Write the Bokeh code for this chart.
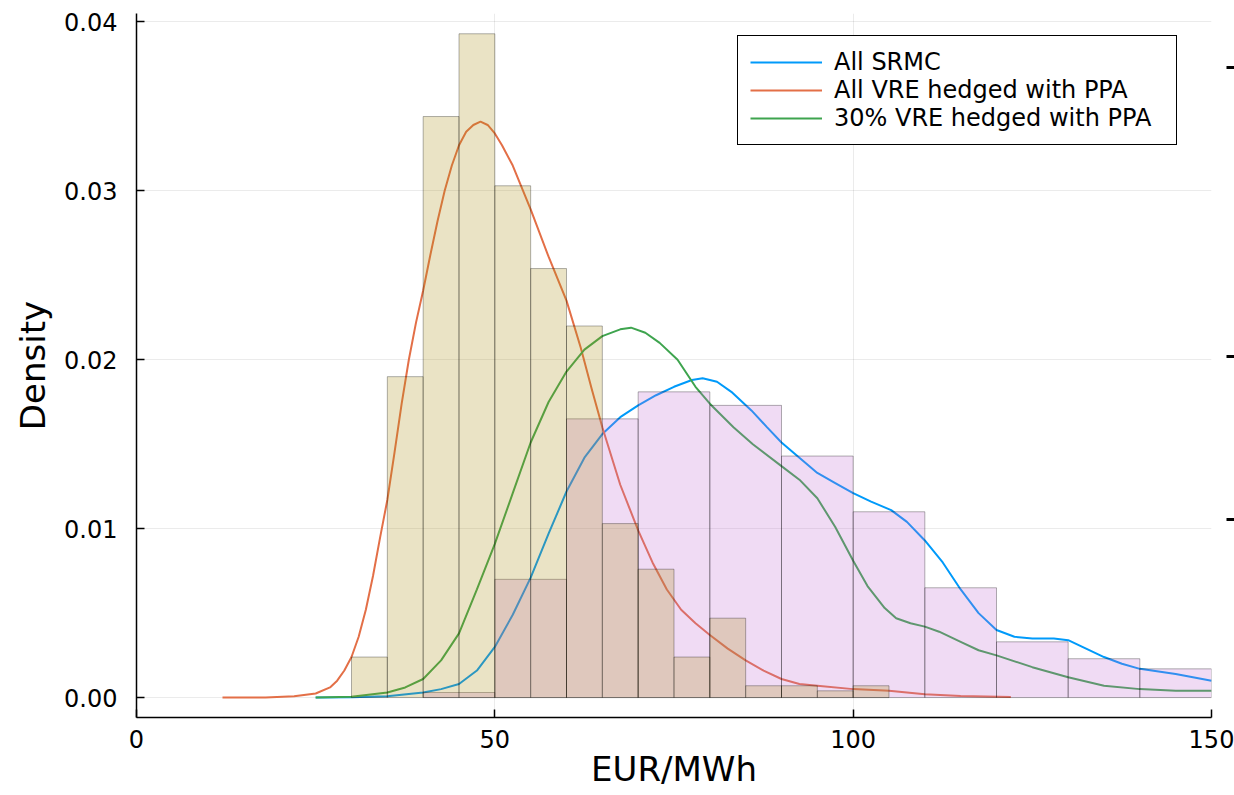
from bokeh.plotting import figure
from bokeh.models import (Range1d, FixedTicker, PrintfTickFormatter, LinearAxis,
                          CustomJSTickFormatter, Legend, LegendItem)
from bokeh.embed import file_html
from bokeh.resources import INLINE

# ---------------- data ----------------
x_ticks = [0, 50, 100, 150]
y_ticks = [0.0, 0.01, 0.02, 0.03, 0.04]
right_marks = [0.01055, 0.02021, 0.03733]

labels = ["All SRMC", "All VRE hedged with PPA", "30% VRE hedged with PPA"]

srmc_x = [25, 30, 35, 40, 42.5, 45, 47.5, 50, 52.5, 55, 57.5, 60, 62.5, 65, 67.5, 70, 72.5, 75,
          77.5, 79, 81, 83, 85.8, 88, 90, 92.5, 95, 97.5, 100, 102.5, 105.3, 107.5, 110, 112.5,
          115, 117.5, 120, 122.5, 125, 128, 130, 132.5, 135, 137.5, 140, 145, 150]
srmc_y = [0.0, 0.00002, 0.00008, 0.0003, 0.0005, 0.0008, 0.0016, 0.0030, 0.0049, 0.0071, 0.0097,
          0.0122, 0.0142, 0.0156, 0.0166, 0.0173, 0.0179, 0.0184, 0.0188, 0.0189, 0.0187, 0.0181,
          0.0170, 0.0160, 0.0151, 0.0142, 0.0133, 0.0127, 0.0121, 0.0116, 0.0111, 0.0104, 0.0093,
          0.0080, 0.0064, 0.0050, 0.0040, 0.0036, 0.0035, 0.0035, 0.0034, 0.0029, 0.0024, 0.0020,
          0.0017, 0.0014, 0.0010]

ppa_x = [12, 18, 22, 25, 27, 28, 29, 30, 31, 32, 33, 34, 35, 36, 37, 38, 39, 40, 41, 42, 43, 44,
         45, 46, 47, 48, 49, 50, 51, 52.5, 55, 57.5, 60, 62, 63.5, 65, 67.5, 70, 72, 74, 76, 78,
         80, 82.5, 85, 87.5, 90, 92.5, 95, 100, 105, 110, 115, 122]
ppa_y = [0.0, 0.00001, 0.00008, 0.00024, 0.0006, 0.0010, 0.0016, 0.0024, 0.0036, 0.0052, 0.0072,
         0.0095, 0.0117, 0.0145, 0.0174, 0.0200, 0.0222, 0.0241, 0.0262, 0.0282, 0.0300, 0.0315,
         0.0327, 0.0335, 0.0339, 0.0341, 0.0339, 0.0334, 0.0327, 0.0315, 0.0289, 0.0261, 0.0235,
         0.0207, 0.0183, 0.0160, 0.0126, 0.0099, 0.0080, 0.0064, 0.0052, 0.0044, 0.0037, 0.0029,
         0.0022, 0.0016, 0.0011, 0.0008, 0.0007, 0.0005, 0.0004, 0.0002, 0.0001, 0.00003]

ppa30_x = [25, 30, 35, 37.5, 40, 42.5, 45, 47.5, 50, 52.5, 55, 57.5, 60, 62.5, 65, 67.5, 69, 71,
           73, 75.5, 78, 80, 83.3, 86, 90, 92.5, 95, 97.5, 100, 102, 104.4, 106, 108, 110, 112,
           115, 117.5, 120, 125, 130, 135, 140, 145, 150]
ppa30_y = [0.0, 0.00005, 0.0003, 0.0006, 0.0011, 0.0022, 0.0038, 0.0064, 0.0091, 0.0121, 0.0151,
           0.0175, 0.0193, 0.0206, 0.0214, 0.0218, 0.0219, 0.0216, 0.0210, 0.0200, 0.0184, 0.0174,
           0.0160, 0.0150, 0.0137, 0.0129, 0.0118, 0.0101, 0.0081, 0.0066, 0.0053, 0.0047, 0.0044,
           0.0042, 0.0039, 0.0033, 0.0028, 0.0025, 0.0018, 0.0012, 0.0007, 0.0005, 0.0004, 0.0004]

# histograms (density)
hist_wide_edges = [40, 50, 60, 70, 80, 90, 100, 110, 120, 130, 140, 150]
hist_wide_density = [0.0003, 0.0070, 0.0165, 0.0181, 0.0173, 0.0143, 0.0110, 0.0065, 0.0033,
                     0.0023, 0.0017]

hist_narrow_edges = [30, 35, 40, 45, 50, 55, 60, 65, 70, 75, 80, 85, 90, 95, 100, 105]
hist_narrow_density = [0.0024, 0.0190, 0.0344, 0.0393, 0.0303, 0.0254, 0.0220, 0.0103, 0.0076,
                       0.0024, 0.0047, 0.0007, 0.0007, 0.0004, 0.0007]

# ---------------- figure ----------------
FONT = "DejaVu Sans"
p = figure(width=1234, height=795, output_backend="svg", toolbar_location=None,
           x_range=Range1d(0, 150), y_range=Range1d(-0.00118, 0.0405),
           min_border_left=136, min_border_right=23, min_border_top=13, min_border_bottom=78)
p.outline_line_color = None
p.background_fill_color = "white"

r1 = p.line(srmc_x, srmc_y, line_color="#009AFA", line_width=2)
r2 = p.line(ppa_x, ppa_y, line_color="#E36F47", line_width=2)
r3 = p.line(ppa30_x, ppa30_y, line_color="#3EA44E", line_width=2)

p.quad(left=hist_wide_edges[:-1], right=hist_wide_edges[1:], bottom=0, top=hist_wide_density,
       fill_color="#C371D2", fill_alpha=0.25, line_color="black", line_alpha=0.3, line_width=1)
p.quad(left=hist_narrow_edges[:-1], right=hist_narrow_edges[1:], bottom=0, top=hist_narrow_density,
       fill_color="#AC8E18", fill_alpha=0.25, line_color="black", line_alpha=0.3, line_width=1)

for ax in (p.xaxis[0], p.yaxis[0]):
    ax.major_tick_in = 8
    ax.major_tick_out = 0
    ax.minor_tick_line_color = None
    ax.axis_line_width = 1.5
    ax.axis_line_color = "black"
    ax.major_tick_line_width = 1.5
    ax.major_label_text_font = FONT
    ax.major_label_text_font_size = "24px"
    ax.major_label_text_color = "black"
    ax.axis_label_text_font = FONT
    ax.axis_label_text_font_size = "34px"
    ax.axis_label_text_font_style = "normal"
    ax.axis_label_text_color = "black"

p.xaxis.ticker = FixedTicker(ticks=x_ticks)
p.yaxis.ticker = FixedTicker(ticks=y_ticks)
p.yaxis.formatter = PrintfTickFormatter(format="%.2f")
p.xaxis.axis_label = "EUR/MWh"
p.yaxis.axis_label = "Density"
p.xaxis.major_label_standoff = 12
p.yaxis.major_label_standoff = 19
p.xaxis.axis_label_standoff = -2
p.yaxis.axis_label_standoff = 8

p.xgrid.grid_line_color = "black"
p.xgrid.grid_line_alpha = 0.08
p.ygrid.grid_line_color = "black"
p.ygrid.grid_line_alpha = 0.08

rax = LinearAxis(ticker=FixedTicker(ticks=right_marks),
                 formatter=CustomJSTickFormatter(code="return ''"),
                 axis_line_color=None, major_tick_in=-15, major_tick_out=23,
                 major_tick_line_width=3, major_tick_line_color="black",
                 minor_tick_line_color=None, major_label_standoff=0)
p.add_layout(rax, "right")

legend = Legend(items=[LegendItem(label=labels[0], renderers=[r1]),
                       LegendItem(label=labels[1], renderers=[r2]),
                       LegendItem(label=labels[2], renderers=[r3])],
                location=(601, 572))
legend.border_line_color = "black"
legend.border_line_width = 1.5
legend.border_line_alpha = 1
legend.background_fill_alpha = 1
legend.label_text_font = FONT
legend.label_text_font_size = "24px"
legend.label_text_color = "black"
legend.glyph_width = 72
legend.glyph_height = 26
legend.label_height = 26
legend.label_width = 330
legend.label_standoff = 12
legend.padding = 12
legend.spacing = 0
legend.margin = 0
p.add_layout(legend)

open("out.html", "w").write(file_html(p, INLINE))
